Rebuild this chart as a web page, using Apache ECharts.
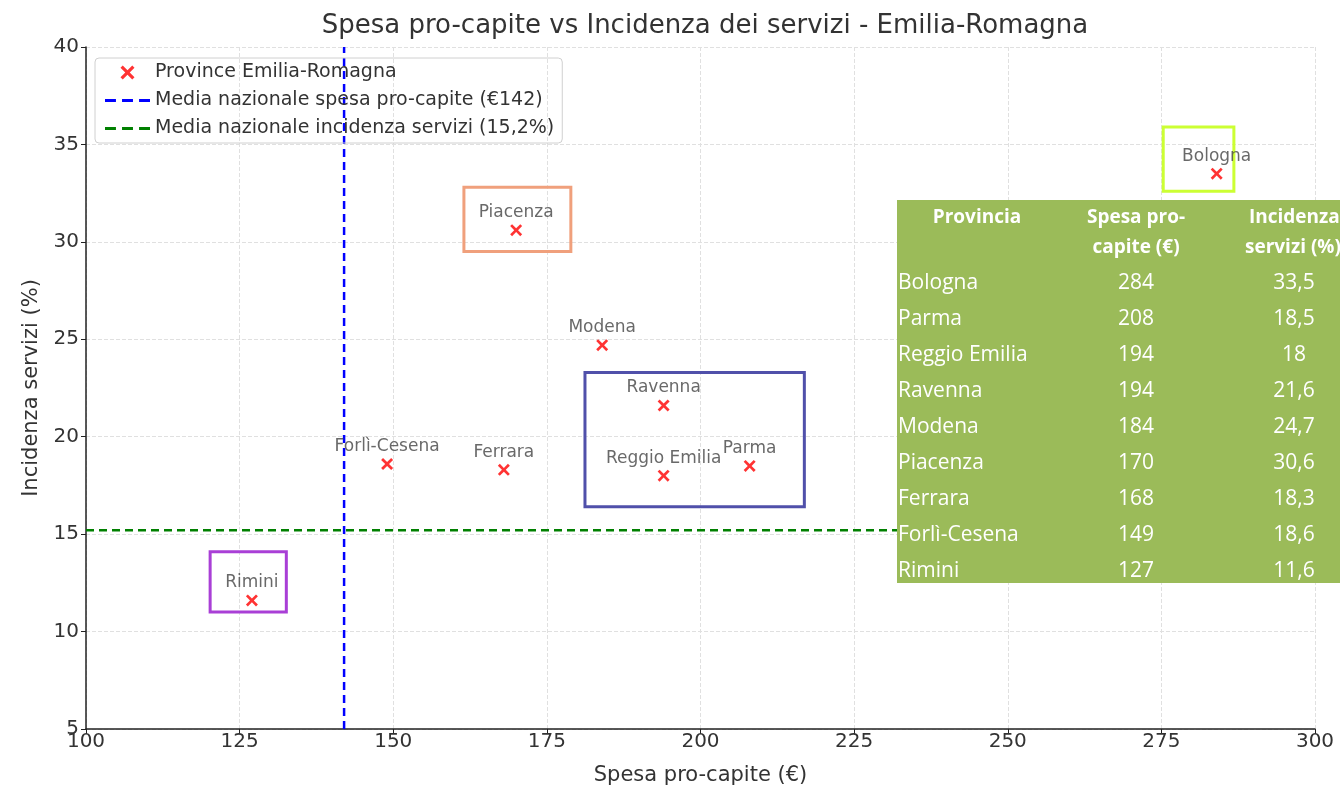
<!DOCTYPE html>
<html>
<head>
<meta charset="UTF-8">
<title>Spesa pro-capite vs Incidenza dei servizi</title>
<script src="https://cdn.jsdelivr.net/npm/echarts@6/dist/echarts.min.js"></script>
</head>
<body style="margin:0;">
<div id="container" style="width:1340px;height:790px;"></div>
<script type="text/javascript">
// dati (ordinati per spesa, come nella tabella)
var province = ['Bologna', 'Parma', 'Reggio Emilia', 'Ravenna', 'Modena', 'Piacenza', 'Ferrara', 'Forlì-Cesena', 'Rimini'];
var spesa = [284, 208, 194, 194, 184, 170, 168, 149, 127];
var incidenza = [33.5, 18.5, 18, 21.6, 24.7, 30.6, 18.3, 18.6, 11.6];
var mediaSpesa = 142;
var mediaIncidenza = 15.2;

// riquadri evidenziati (coordinate in unità dati) e colori
var boxes = [
  { from: [161.5, 32.8], to: [178.9, 29.5], color: '#f0a07c' },
  { from: [181.2, 23.3], to: [216.9, 16.4], color: '#5050aa' },
  { from: [120.2, 14.1], to: [132.6, 11.0], color: '#a93fd6' },
  { from: [275.3, 35.9], to: [286.8, 32.6], color: '#ccff33' }
];

var xMin = 100, xMax = 300, yMin = 5, yMax = 40;
var font = 'DejaVu Sans';

var dom = document.getElementById('container');
var myChart = echarts.init(dom);

var points = [];
for (var i = 0; i < province.length; i++) {
  points.push({ name: province[i], value: [spesa[i], incidenza[i]] });
}

var areas = boxes.map(function (b) {
  return [
    { coord: b.from, itemStyle: { color: 'rgba(0,0,0,0)', borderColor: b.color, borderWidth: 3 } },
    { coord: b.to }
  ];
});

var xMarker = 'path://M0,1.6 L1.6,0 L5,3.4 L8.4,0 L10,1.6 L6.6,5 L10,8.4 L8.4,10 L5,6.6 L1.6,10 L0,8.4 L3.4,5 Z';
var dashIcon = 'path://M0,4 L9,4 L9,6.5 L0,6.5 Z M14,4 L23,4 L23,6.5 L14,6.5 Z M28,4 L37,4 L37,6.5 L28,6.5 Z';

// tabella sovrapposta
var tbl = [];
var tx = 897, ty = 200, rowH = 36;
tbl.push({ type: 'rect', z: 100, shape: { x: tx, y: ty, width: 1340 - tx, height: 383 }, style: { fill: '#9bbb59' } });
function txt(x, y, s, align, f) {
  tbl.push({ type: 'text', z: 101, x: x, y: y, style: { text: s, textAlign: align, textVerticalAlign: 'middle', fill: '#fff', font: f } });
}
var hFont = 'bold 19px "Open Sans"';
var cFont = '21px "Open Sans"';
txt(977, 218, 'Provincia', 'center', hFont);
txt(1136, 218, 'Spesa pro-', 'center', hFont);
txt(1136, 248, 'capite (€)', 'center', hFont);
txt(1249, 218, 'Incidenza', 'left', hFont);
txt(1245, 248, 'servizi (%)', 'left', hFont);
for (var r = 0; r < province.length; r++) {
  var yy = 283 + r * rowH;
  txt(898, yy, province[r], 'left', cFont);
  txt(1136, yy, String(spesa[r]), 'center', cFont);
  txt(1294, yy, String(incidenza[r]).replace('.', ','), 'center', cFont);
}

var option = {
  animation: false,
  backgroundColor: '#fff',
  textStyle: { fontFamily: font },
  title: {
    text: 'Spesa pro-capite vs Incidenza dei servizi - Emilia-Romagna',
    left: 700,
    textAlign: 'center',
    top: 8,
    textStyle: { fontFamily: font, fontSize: 26, fontWeight: 'normal', color: '#333' }
  },
  legend: {
    left: 95,
    top: 58,
    orient: 'vertical',
    padding: [5, 8, 5, 10],
    itemGap: 9,
    itemWidth: 45,
    itemHeight: 14,
    borderColor: '#d0d0d0',
    borderWidth: 1,
    borderRadius: 4,
    textStyle: { fontFamily: font, fontSize: 19, color: '#333' },
    data: [
      { name: 'Province Emilia-Romagna', icon: 'path://M14,2 L15.6,0.4 L19,3.8 L22.4,0.4 L24,2 L20.6,5.4 L24,8.8 L22.4,10.4 L19,7 L15.6,10.4 L14,8.8 L17.4,5.4 Z' },
      { name: 'Media nazionale spesa pro-capite (€142)', icon: dashIcon },
      { name: 'Media nazionale incidenza servizi (15,2%)', icon: dashIcon }
    ]
  },
  grid: { left: 86, right: 25, top: 47, bottom: 61, outerBoundsMode: 'none' },
  xAxis: {
    type: 'value',
    min: xMin, max: xMax, interval: 25,
    name: 'Spesa pro-capite (€)',
    nameLocation: 'middle',
    nameGap: 36,
    nameTextStyle: { fontFamily: font, fontSize: 21, color: '#333' },
    axisLine: { lineStyle: { color: '#222', width: 1.5 } },
    axisTick: { show: true, length: 5, lineStyle: { color: '#222' } },
    axisLabel: { fontFamily: font, fontSize: 20, color: '#333', margin: 3 },
    splitLine: { show: true, lineStyle: { color: '#e0e0e0', type: 'dashed' } }
  },
  yAxis: {
    type: 'value',
    min: yMin, max: yMax, interval: 5,
    name: 'Incidenza servizi (%)',
    nameLocation: 'middle',
    nameGap: 44,
    nameTextStyle: { fontFamily: font, fontSize: 21, color: '#333' },
    axisLine: { show: true, lineStyle: { color: '#222', width: 1.5 } },
    axisTick: { show: true, length: 5, lineStyle: { color: '#222' } },
    axisLabel: { fontFamily: font, fontSize: 20, color: '#333', margin: 7 },
    splitLine: { show: true, lineStyle: { color: '#e0e0e0', type: 'dashed' } }
  },
  series: [
    {
      name: 'Province Emilia-Romagna',
      type: 'scatter',
      symbol: xMarker,
      symbolSize: 12,
      itemStyle: { color: '#ff0000' },
      label: {
        show: true,
        position: 'top',
        distance: 3,
        formatter: '{b}',
        fontFamily: font,
        fontSize: 17,
        color: '#444'
      },
      data: points,
      z: 5,
      markArea: { silent: true, data: areas }
    },
    {
      name: 'Media nazionale spesa pro-capite (€142)',
      type: 'line',
      symbol: 'none',
      lineStyle: { color: '#0000ff', width: 2.5, type: [8, 5] },
      itemStyle: { color: '#0000ff' },
      data: [[mediaSpesa, yMin], [mediaSpesa, yMax]],
      z: 3
    },
    {
      name: 'Media nazionale incidenza servizi (15,2%)',
      type: 'line',
      symbol: 'none',
      lineStyle: { color: '#008000', width: 2.5, type: [8, 5] },
      itemStyle: { color: '#008000' },
      data: [[xMin, mediaIncidenza], [xMax, mediaIncidenza]],
      z: 3
    }
  ],
  graphic: { elements: tbl }
};

myChart.setOption(option);
</script>
</body>
</html>
